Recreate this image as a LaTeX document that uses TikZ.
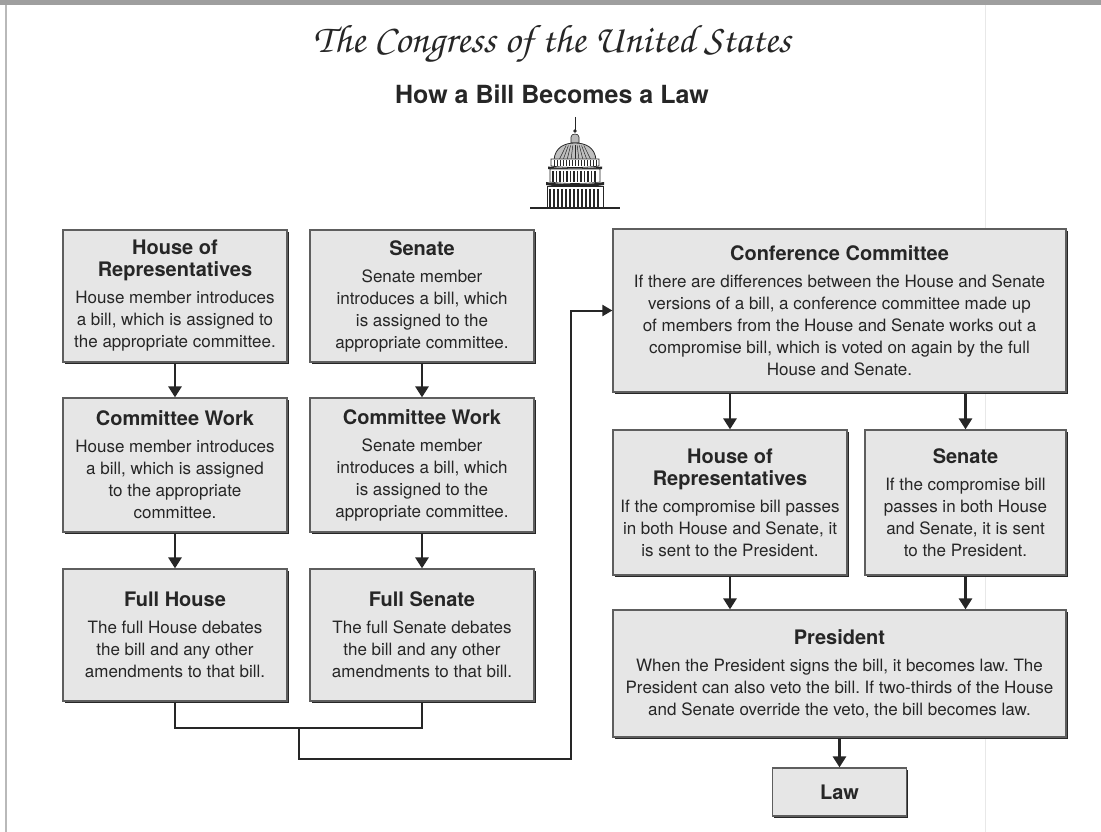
\documentclass[tikz,border=0pt]{standalone}
\usepackage[T1]{fontenc}
\usepackage{fontspec}
\setmainfont{TeX Gyre Heros}
\usepackage{graphicx}
\usetikzlibrary{arrows.meta,shadows,calc}
\frenchspacing

\definecolor{ink}{HTML}{262626}
\definecolor{boxfill}{HTML}{E6E6E6}
\definecolor{rim}{HTML}{5E5E5E}

\newcommand\hdfont{\fontsize{20}{22}\selectfont\bfseries}
\newcommand\bdfont{\fontsize{17}{22}\selectfont\mdseries}
\newcommand\scripttitle{\fontencoding{T1}\fontfamily{pzc}\fontseries{mb}\fontshape{it}\selectfont}
% heading + body, centred, with zero width so the box size comes from the style
\newcommand\cardtext[2]{\makebox[0pt]{\parbox{520pt}{\centering\hdfont #1\par\vspace{5pt}\bdfont #2\par}}}

\begin{document}
\begin{tikzpicture}[x=1pt,y=-1pt,
  card/.style={draw=rim, line width=1.2pt, fill=boxfill, text=ink, inner sep=0pt,
    drop shadow={shadow xshift=1.6pt, shadow yshift=-1.6pt, fill=ink, opacity=1}},
  arr/.style={draw=ink, line width=2.8pt, -{Triangle[width=13pt,length=11pt]}},
  conn/.style={draw=ink, line width=2pt},
  feed/.style={draw=ink, line width=2pt, -{Triangle[width=11pt,length=10pt]}}]
\useasboundingbox (0,0) rectangle (1101,832);

% page edges
\fill[gray!75] (0,0) rectangle (1101,5);
\draw[gray!55, line width=2pt] (6,5) -- (6,832);
\draw[gray!18, line width=0.8pt] (985,5) -- (985,832);

% titles
\node[anchor=base, text=ink] (title) at (552,53)
  {\resizebox{477pt}{!}{\scripttitle The Congress of the United States}};
\node[anchor=base, text=ink, font=\fontsize{25}{28}\selectfont\bfseries] (subtitle) at (552,104)
  {How a Bill Becomes a Law};

% the Capitol dome
\begin{scope}[shift={(575,0)}, draw=ink]
  \draw[line width=1pt] (0,117) -- (0,132);
  \fill[ink] (0,131) circle (1.8);
  \filldraw[fill=gray!55, line width=0.6pt] (-4,143) -- (-4,137) .. controls (-4,133) and (4,133) .. (4,137) -- (4,143) -- cycle;
  \filldraw[fill=gray!50, line width=0.8pt] (-21,160) .. controls (-20,147) and (-10,143) .. (0,143)
     .. controls (10,143) and (20,147) .. (21,160) -- cycle;
  \foreach \t in {-16,-12,...,16} \draw[line width=0.5pt] (\t,160) -- ({0.55*\t},145.5);
  \filldraw[fill=white, line width=0.8pt] (-24,159) -- (24,159) -- (24,166) .. controls (10,168) and (-10,168) .. (-24,166) -- cycle;
  \foreach \t in {-21,-18,...,21} \draw[line width=0.9pt] (\t,160.5) -- (\t,166);
  \fill[ink] (-27,166.5) .. controls (-10,169) and (10,169) .. (27,166.5) -- (27,169) .. controls (10,171.5) and (-10,171.5) .. (-27,169) -- cycle;
  \filldraw[fill=white, line width=0.6pt] (-25,169) -- (25,169) -- (25,182) .. controls (10,184) and (-10,184) .. (-25,182) -- cycle;
  \foreach \t in {-22,-18.5,...,22} \draw[line width=1.1pt] (\t,171) -- (\t,182.5);
  \fill[ink] (-29,182) .. controls (-10,185) and (10,185) .. (29,182) -- (29,185) .. controls (10,188) and (-10,188) .. (-29,185) -- cycle;
  \filldraw[fill=white, line width=0.6pt] (-28,186) rectangle (28,207);
  \foreach \t in {-25,-21,...,25} \draw[line width=1.4pt] (\t,189) -- (\t,207);
  \draw[line width=1.6pt] (-45,208) -- (45,208);
\end{scope}

% left side: the two chambers
\node[card, minimum width=224pt, minimum height=132pt] (h1) at (175,296)
  {\cardtext{House of\\Representatives}{House member introduces\\a bill, which is assigned to\\the appropriate committee.}};
\node[card, minimum width=224pt, minimum height=132pt] (s1) at (422,296)
  {\cardtext{Senate}{Senate member\\introduces a bill, which\\is assigned to the\\appropriate committee.}};
\node[card, minimum width=224pt, minimum height=134pt] (h2) at (175,465)
  {\cardtext{Committee Work}{House member introduces\\a bill, which is assigned\\to the appropriate\\committee.}};
\node[card, minimum width=224pt, minimum height=134pt] (s2) at (422,465)
  {\cardtext{Committee Work}{Senate member\\introduces a bill, which\\is assigned to the\\appropriate committee.}};
\node[card, minimum width=224pt, minimum height=132pt] (h3) at (175,635)
  {\cardtext{Full House}{The full House debates\\the bill and any other\\amendments to that bill.}};
\node[card, minimum width=224pt, minimum height=132pt] (s3) at (422,635)
  {\cardtext{Full Senate}{The full Senate debates\\the bill and any other\\amendments to that bill.}};

% right side
\node[card, minimum width=453pt, minimum height=163pt] (conf) at (839.5,310.5)
  {\cardtext{Conference Committee}{If there are differences between the House and Senate\\versions of a bill, a conference committee made up\\of members from the House and Senate works out a\\compromise bill, which is voted on again by the full\\House and Senate.}};
\node[card, minimum width=234pt, minimum height=145pt] (hv) at (730,502.5)
  {\cardtext{House of\\Representatives}{If the compromise bill passes\\in both House and Senate, it\\is sent to the President.}};
\node[card, minimum width=201pt, minimum height=145pt] (sv) at (965.5,502.5)
  {\cardtext{Senate}{If the compromise bill\\passes in both House\\and Senate, it is sent\\to the President.}};
\node[card, minimum width=453pt, minimum height=127pt] (pres) at (839.5,673.5)
  {\cardtext{President}{When the President signs the bill, it becomes law. The\\President can also veto the bill. If two-thirds of the House\\and Senate override the veto, the bill becomes law.}};
\node[card, minimum width=134pt, minimum height=48pt] (law) at (839.5,792)
  {\makebox[0pt]{\hdfont Law}};

% arrows down each chamber
\draw[arr] (h1) -- (h2);
\draw[arr] (h2) -- (h3);
\draw[arr] (s1) -- (s2);
\draw[arr] (s2) -- (s3);

% both chambers feed the conference committee
\draw[conn] (h3.south) -- ++(0,26) coordinate (bl) -- (bl -| s3.south) coordinate (br) -- (s3.south);
\coordinate (bm) at ($(bl)!0.5!(br)$);
\coordinate (bus) at ([xshift=-41pt]conf.west);
\draw[feed] (bm) -- ++(0,31) -| (bus) -- (conf.west);

% conference to the chambers, chambers to the President, President to law
\draw[arr] (hv.north |- conf.south) -- (hv.north);
\draw[arr] (sv.north |- conf.south) -- (sv.north);
\draw[arr] (hv.south) -- (hv.south |- pres.north);
\draw[arr] (sv.south) -- (sv.south |- pres.north);
\draw[arr] (pres.south) -- (law.north);
\end{tikzpicture}
\end{document}
